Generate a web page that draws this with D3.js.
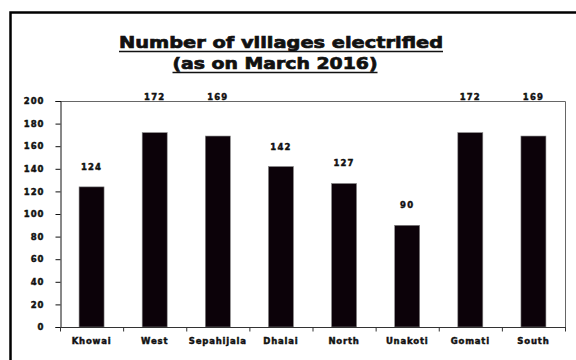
<!DOCTYPE html>
<html>
<head>
<meta charset="utf-8">
<script src="https://cdn.jsdelivr.net/npm/d3@7"></script>
<style>
  html, body { margin: 0; padding: 0; background: #fff; }
  svg { display: block; }
  text { font-family: "DejaVu Sans", sans-serif; font-weight: bold; fill: #111; stroke: #111; stroke-width: 0.45; }
</style>
</head>
<body>
<svg id="chart" width="576" height="360"></svg>
<script>
// Villages electrified per district, as on March 2016
const districts = ["Khowai", "West", "Sepahijala", "Dhalai", "North", "Unakoti", "Gomati", "South"];
const villages  = [124, 172, 169, 142, 127, 90, 172, 169];
const yTicks    = [0, 20, 40, 60, 80, 100, 120, 140, 160, 180, 200];
const titleLines = ["Number of villages electrified", "(as on March 2016)"];

const svg = d3.select("#chart");
const W = 576, H = 360;
const plot = { left: 60, right: 565, top: 101, bottom: 327 };

// outer frame (left and top edges)
svg.append("path")
  .attr("d", `M10.5,${H} L10.5,12.5 L${W},12.5`)
  .attr("fill", "none")
  .attr("stroke", "#000")
  .attr("stroke-width", 2.5);

// title, underlined
const titleSpecs = [
  { x: 281, y: 48, len: 324 },
  { x: 275, y: 69, len: 205 }
];
titleLines.forEach((t, i) => {
  const s = titleSpecs[i];
  svg.append("text")
    .attr("x", s.x).attr("y", s.y)
    .attr("text-anchor", "middle")
    .attr("font-size", 16)
    .attr("textLength", s.len)
    .attr("lengthAdjust", "spacingAndGlyphs")
    .style("stroke-width", 0.7)
    .text(t);
  svg.append("line")
    .attr("x1", s.x - s.len / 2).attr("x2", s.x + s.len / 2)
    .attr("y1", s.y + 3.5).attr("y2", s.y + 3.5)
    .attr("stroke", "#111").attr("stroke-width", 1.4);
});

const x = d3.scaleBand().domain(districts).range([plot.left, plot.right]).paddingInner(0).paddingOuter(0);
const y = d3.scaleLinear().domain([0, 200]).range([plot.bottom, plot.top]);
const barW = 25;

// plot frame (top and right)
svg.append("path")
  .attr("d", `M${plot.left},${plot.top + 0.5} L${plot.right + 0.5},${plot.top + 0.5} L${plot.right + 0.5},${plot.bottom}`)
  .attr("fill", "none").attr("stroke", "#666").attr("stroke-width", 1);

// bars
svg.append("g").selectAll("rect")
  .data(districts)
  .join("rect")
  .attr("x", d => x(d) + x.bandwidth() / 2 - barW / 2)
  .attr("width", barW)
  .attr("y", (d, i) => y(villages[i]))
  .attr("height", (d, i) => y(0) - y(villages[i]))
  .attr("fill", "#0c0209")
  .attr("stroke", "#888")
  .attr("stroke-width", 0.6);

// y axis
const yAxis = svg.append("g")
  .attr("transform", `translate(${plot.left + 0.5},0)`)
  .call(d3.axisLeft(y).tickValues(yTicks).tickSize(5).tickPadding(11));
yAxis.select(".domain").attr("stroke", "#111");
yAxis.selectAll(".tick line").attr("stroke", "#111");
yAxis.selectAll("text")
  .attr("font-size", 8.5)
  .attr("letter-spacing", 1)
  .attr("fill", "#111")
  .style("font-family", "'DejaVu Sans', sans-serif")
  .style("font-weight", "bold");

// x axis: tick marks sit at the category boundaries
const xAxis = svg.append("g")
  .attr("transform", `translate(0,${plot.bottom + 0.5})`);
xAxis.append("line")
  .attr("x1", plot.left).attr("x2", plot.right + 1)
  .attr("stroke", "#333");
const bounds = districts.map(d => x(d)).concat([plot.right]);
xAxis.selectAll(".bt")
  .data(bounds)
  .join("line")
  .attr("class", "bt")
  .attr("x1", d => d + 0.5).attr("x2", d => d + 0.5)
  .attr("y1", 0).attr("y2", 4)
  .attr("stroke", "#333");
xAxis.selectAll(".cat")
  .data(districts)
  .join("text")
  .attr("class", "cat")
  .attr("x", d => x(d) + x.bandwidth() / 2)
  .attr("y", 16)
  .attr("text-anchor", "middle")
  .attr("font-size", 8.5)
  .attr("letter-spacing", 0.8)
  .text(d => d);

// value labels; tall bars carry their label just above the plot frame
svg.append("g").selectAll("text")
  .data(districts)
  .join("text")
  .attr("x", d => x(d) + x.bandwidth() / 2)
  .attr("y", (d, i) => villages[i] > 160 ? plot.top - 1 : y(villages[i]) - 17)
  .attr("text-anchor", "middle")
  .attr("font-size", 8.5)
  .attr("letter-spacing", 1.2)
  .text((d, i) => villages[i]);
</script>
</body>
</html>
